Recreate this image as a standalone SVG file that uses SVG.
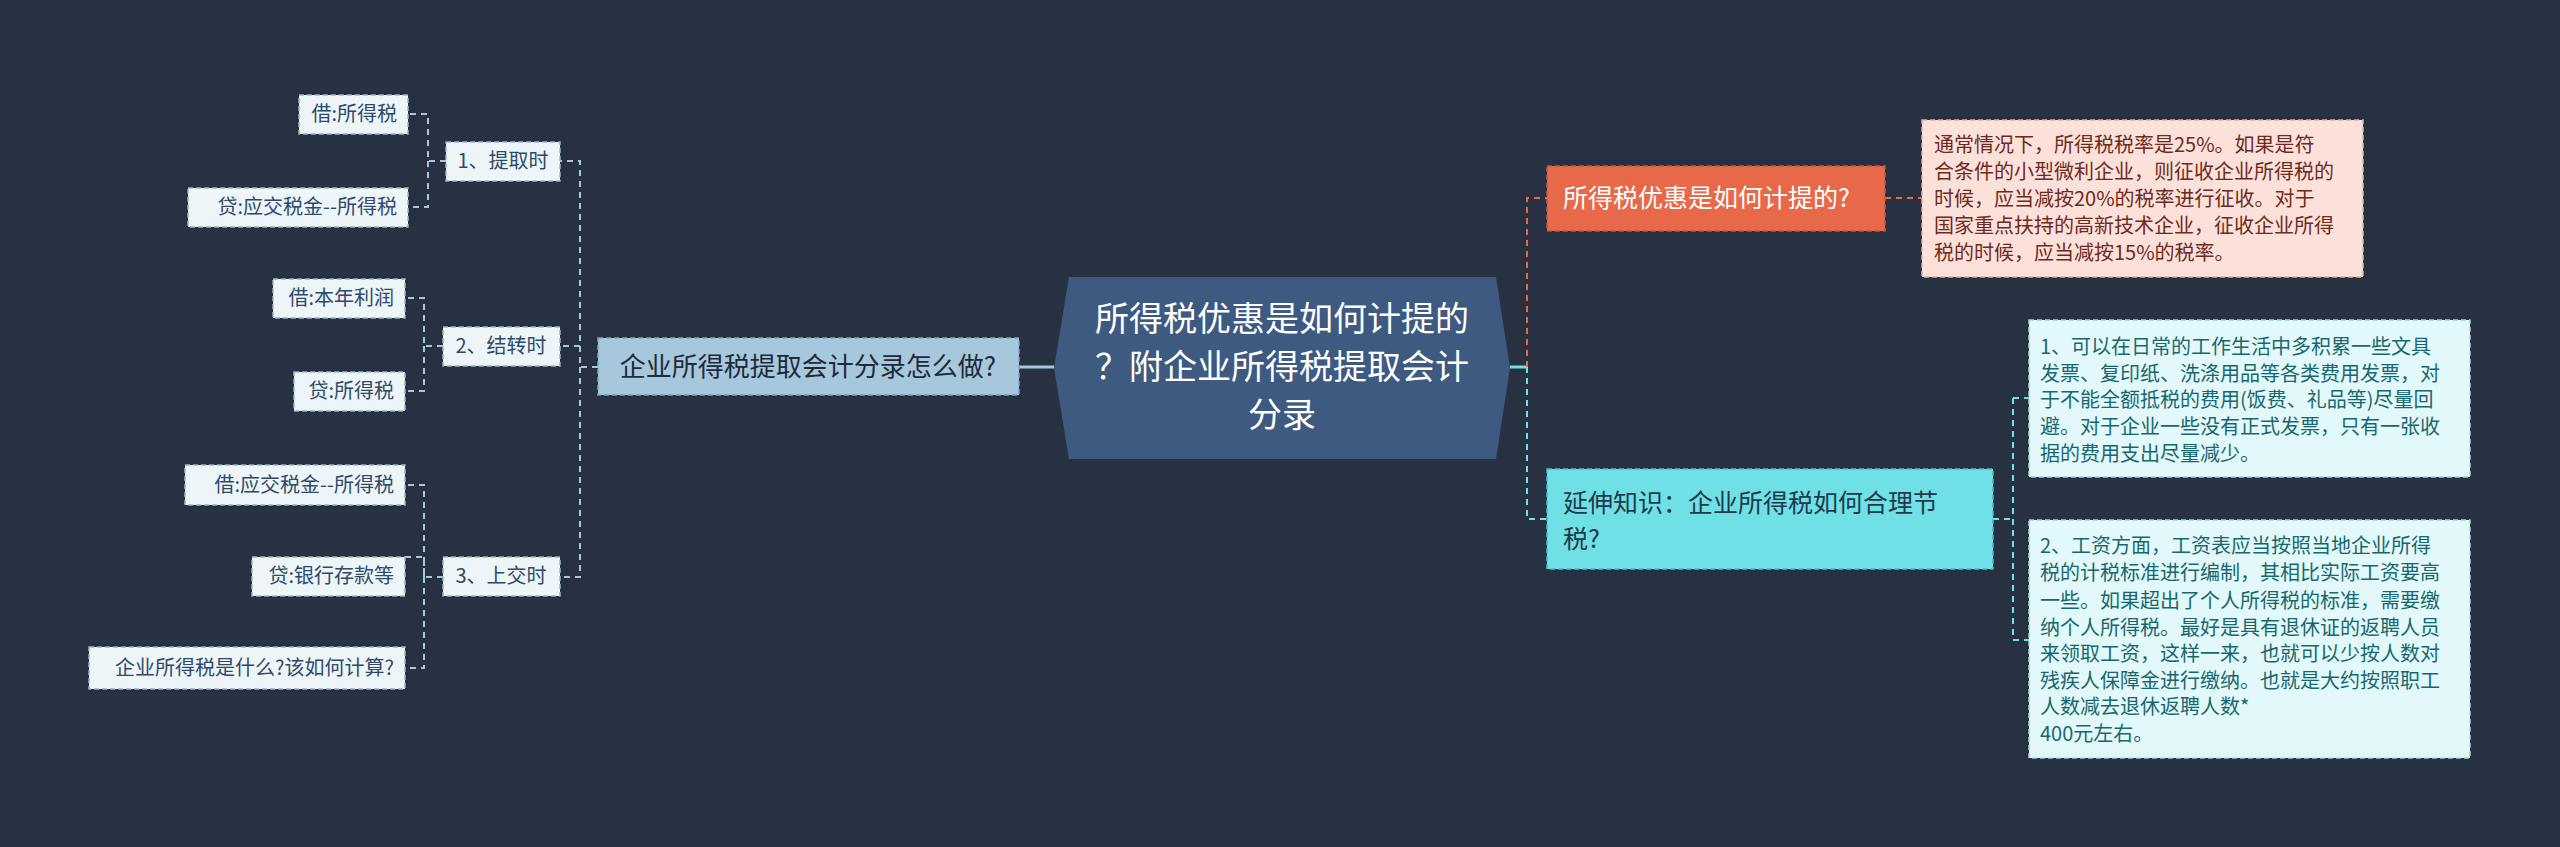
<svg xmlns="http://www.w3.org/2000/svg" width="2560" height="847" viewBox="0 0 2560 847">
<style>
text{font-family:"Noto Sans CJK SC","Liberation Sans",sans-serif}
.lf rect{fill:#EEF5F9;stroke:#9fb4c4;stroke-width:1.5;stroke-dasharray:5 3}
.lf text{fill:#2d4a6a;font-size:20px}
.c{fill:none;stroke:#a6c8dc;stroke-width:2;stroke-dasharray:6 5}
</style>
<rect width="2560" height="847" fill="#273142"/>
<g id="connectors">
<line x1="1054" y1="367" x2="1019" y2="367" stroke="#a6c8dc" stroke-width="3"/>
<path class="c" d="M598 367H580V161H560M580 346H560M580 367V577H560"/>
<path class="c" d="M446 161H428V114H408M428 161V207H408"/>
<path class="c" d="M443 346H424V298H405M424 346V391H405"/>
<path class="c" d="M443 577H424V485H405M424 577V557H405M424 577V668H405"/>
<line x1="1510" y1="367" x2="1527" y2="367" stroke="#6EE0E6" stroke-width="3"/>
<path d="M1527 367V198H1547M1885 198H1922" fill="none" stroke="#E8694A" stroke-width="2" stroke-dasharray="6 5"/>
<path d="M1527 367V519H1547M1993 519H2013M2013 398V640M2013 398H2029M2013 640H2029" fill="none" stroke="#6EE0E6" stroke-width="2" stroke-dasharray="6 5"/>
</g>
<g id="center">
<polygon points="1069,277 1496,277 1510,368 1496,459 1069,459 1054,368" fill="#3E5A80"/>
<text x="1282" y="331" font-size="34" fill="#fff" text-anchor="middle">所得税优惠是如何计提的</text>
<text x="1282" y="379" font-size="34" fill="#fff" text-anchor="middle">？附企业所得税提取会计</text>
<text x="1282" y="427" font-size="34" fill="#fff" text-anchor="middle">分录</text>
</g>
<g id="main-left">
<rect x="598" y="338" width="421" height="57" fill="#A7C8DC" stroke="#7fa3ba" stroke-width="1.5" stroke-dasharray="5 3"/>
<text x="808" y="376" font-size="26" fill="#1d2a3a" text-anchor="middle">企业所得税提取会计分录怎么做?</text>
</g>
<g id="m1" class="lf"><rect x="446" y="142" width="114" height="39"/><text x="503" y="168" text-anchor="middle">1、提取时</text></g>
<g id="m2" class="lf"><rect x="443" y="327" width="117" height="39"/><text x="501" y="353" text-anchor="middle">2、结转时</text></g>
<g id="m3" class="lf"><rect x="443" y="557" width="117" height="39"/><text x="501" y="583" text-anchor="middle">3、上交时</text></g>
<g id="l1" class="lf"><rect x="299" y="95" width="109" height="39"/><text x="397" y="121" text-anchor="end">借:所得税</text></g>
<g id="l2" class="lf"><rect x="188" y="188" width="220" height="39"/><text x="397" y="214" text-anchor="end">贷:应交税金--所得税</text></g>
<g id="l3" class="lf"><rect x="273" y="279" width="132" height="39"/><text x="394" y="305" text-anchor="end">借:本年利润</text></g>
<g id="l4" class="lf"><rect x="294" y="372" width="111" height="39"/><text x="394" y="398" text-anchor="end">贷:所得税</text></g>
<g id="l5" class="lf"><rect x="185" y="465" width="220" height="40"/><text x="394" y="492" text-anchor="end">借:应交税金--所得税</text></g>
<g id="l6" class="lf"><rect x="252" y="557" width="153" height="39"/><text x="394" y="583" text-anchor="end">贷:银行存款等</text></g>
<g id="l7" class="lf"><rect x="89" y="647" width="316" height="42"/><text x="394" y="675" text-anchor="end">企业所得税是什么?该如何计算?</text></g>
<g id="r1">
<rect x="1547" y="166" width="338" height="65" fill="#E8694A" stroke="#c5553a" stroke-width="1.5" stroke-dasharray="5 3"/>
<text x="1563" y="207" font-size="25" fill="#fff">所得税优惠是如何计提的?</text>
</g>
<g id="r1d">
<rect x="1922" y="120" width="441" height="157" fill="#FCE1DA" stroke="#e0b0a2" stroke-width="1.5" stroke-dasharray="5 3"/>
<g font-size="20" fill="#6e2a1c">
<text x="1934" y="152">通常情况下，所得税税率是25%。如果是符</text>
<text x="1934" y="179">合条件的小型微利企业，则征收企业所得税的</text>
<text x="1934" y="206">时候，应当减按20%的税率进行征收。对于</text>
<text x="1934" y="233">国家重点扶持的高新技术企业，征收企业所得</text>
<text x="1934" y="260">税的时候，应当减按15%的税率。</text>
</g>
</g>
<g id="r2">
<rect x="1547" y="469" width="446" height="100" fill="#6EE0E6" stroke="#4cbcc4" stroke-width="1.5" stroke-dasharray="5 3"/>
<text x="1563" y="512" font-size="25" fill="#1f3a4a">延伸知识：企业所得税如何合理节</text>
<text x="1563" y="548" font-size="25" fill="#1f3a4a">税?</text>
</g>
<g id="r2a">
<rect x="2029" y="320" width="441" height="157" fill="#E3F8FA" stroke="#9fd8dc" stroke-width="1.5" stroke-dasharray="5 3"/>
<g font-size="20" fill="#17686e">
<text x="2040" y="354">1、可以在日常的工作生活中多积累一些文具</text>
<text x="2040" y="381">发票、复印纸、洗涤用品等各类费用发票，对</text>
<text x="2040" y="407">于不能全额抵税的费用(饭费、礼品等)尽量回</text>
<text x="2040" y="434">避。对于企业一些没有正式发票，只有一张收</text>
<text x="2040" y="461">据的费用支出尽量减少。</text>
</g>
</g>
<g id="r2b">
<rect x="2029" y="520" width="441" height="238" fill="#E3F8FA" stroke="#9fd8dc" stroke-width="1.5" stroke-dasharray="5 3"/>
<g font-size="20" fill="#17686e">
<text x="2040" y="553">2、工资方面，工资表应当按照当地企业所得</text>
<text x="2040" y="580">税的计税标准进行编制，其相比实际工资要高</text>
<text x="2040" y="608">一些。如果超出了个人所得税的标准，需要缴</text>
<text x="2040" y="635">纳个人所得税。最好是具有退休证的返聘人员</text>
<text x="2040" y="661">来领取工资，这样一来，也就可以少按人数对</text>
<text x="2040" y="688">残疾人保障金进行缴纳。也就是大约按照职工</text>
<text x="2040" y="714">人数减去退休返聘人数*</text>
<text x="2040" y="741">400元左右。</text>
</g>
</g>
</svg>
